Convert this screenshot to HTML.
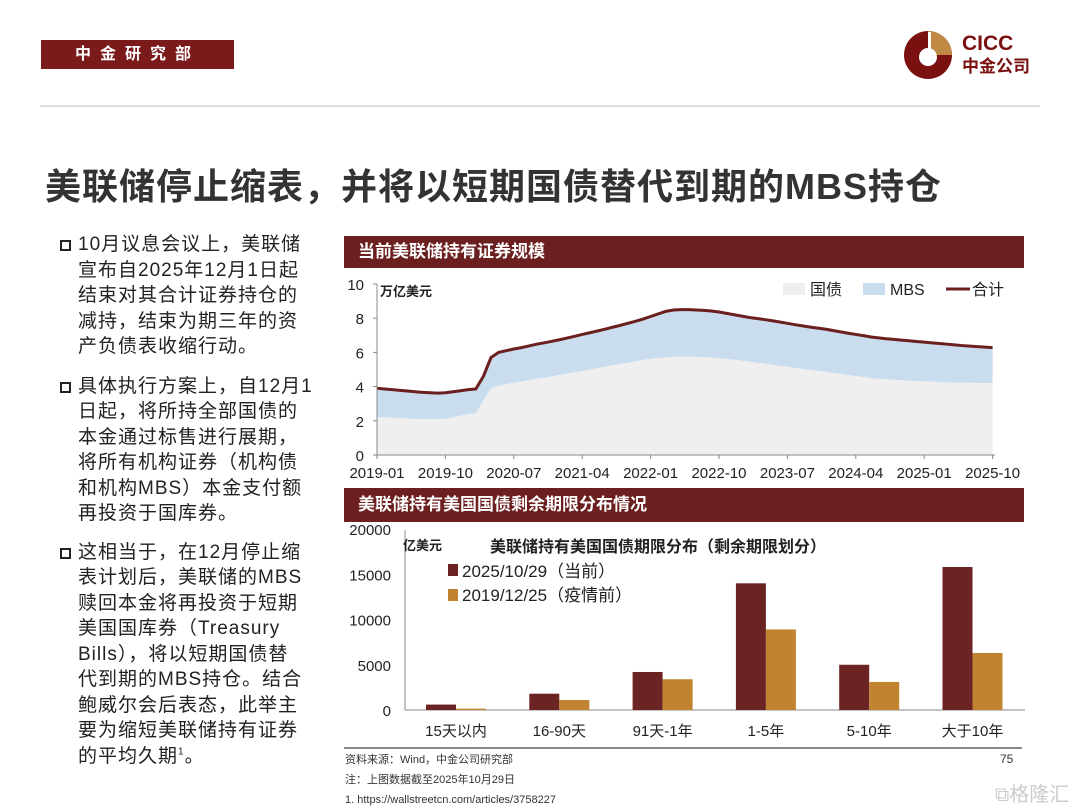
<!DOCTYPE html>
<html><head><meta charset="utf-8"><style>
body{margin:0;width:1080px;height:810px;position:relative;background:#fff;font-family:"Liberation Sans","Noto Sans CJK SC",sans-serif;overflow:hidden}
.abs{position:absolute}
.bl{position:absolute;left:60px;font-size:19px;letter-spacing:1px;line-height:25.5px;color:#222;white-space:nowrap}
.bl p{margin:0;padding-left:18px;position:relative}
.bl p:before{content:"";position:absolute;left:0;top:8px;width:7px;height:7px;border:2px solid #222}
sup{line-height:0}
</style></head><body>
<div class="abs" style="left:41px;top:40px;width:193px;height:29px;background:#7a1a1a;color:#fff;font-weight:bold;font-size:16px;line-height:29px;text-align:center;letter-spacing:9px">中金研究部</div>
<div class="abs" style="left:903px;top:30px;width:50px;height:50px">
<svg width="50" height="50" viewBox="0 0 50 50"><circle cx="25" cy="25" r="24" fill="#7a1010"/><path d="M25 1A24 24 0 0 1 49 25L25 25Z" fill="#c08a45"/><circle cx="25" cy="27" r="9" fill="#fff"/><rect x="25" y="2" width="3" height="20" fill="#fff"/></svg></div>
<div class="abs" style="left:962px;top:33px;color:#7a1010;font-weight:bold;font-size:21px;line-height:22px">CICC<br><span style="font-size:17px">中金公司</span></div>
<div class="abs" style="left:40px;top:105px;width:1000px;height:2px;background:#ddd"></div>
<div class="abs" style="left:45px;top:158px;font-size:36px;letter-spacing:1px;font-weight:bold;color:#333;white-space:nowrap">美联储停止缩表，并将以短期国债替代到期的MBS持仓</div>
<div class="bl" style="top:232px">
<p>10月议息会议上，美联储<br>宣布自2025年12月1日起<br>结束对其合计证券持仓的<br>减持，结束为期三年的资<br>产负债表收缩行动。</p>
<p style="margin-top:14px">具体执行方案上，自12月1<br>日起，将所持全部国债的<br>本金通过标售进行展期，<br>将所有机构证券（机构债<br>和机构MBS）本金支付额<br>再投资于国库券。</p>
<p style="margin-top:13px">这相当于，在12月停止缩<br>表计划后，美联储的MBS<br>赎回本金将再投资于短期<br>美国国库券（Treasury<br>Bills），将以短期国债替<br>代到期的MBS持仓。结合<br>鲍威尔会后表态，此举主<br>要为缩短美联储持有证券<br>的平均久期<sup style="font-size:10px">1</sup>。</p>
</div>
<div class="abs" style="left:344px;top:236px;width:680px;height:32px;background:#6b1f1f;color:#fff;font-weight:bold;font-size:17px;line-height:32px;padding-left:14px;box-sizing:border-box">当前美联储持有证券规模</div>
<div class="abs" style="left:344px;top:488px;width:680px;height:34px;background:#6b1f1f;color:#fff;font-weight:bold;font-size:17px;line-height:34px;padding-left:14px;box-sizing:border-box">美联储持有美国国债剩余期限分布情况</div>
<div class="abs" style="left:344px;top:747px;width:678px;height:2px;background:#888"></div>
<div class="abs" style="left:345px;top:750px;font-size:11px;line-height:20px;color:#333">资料来源：Wind，中金公司研究部<br>注：上图数据截至2025年10月29日<br>1. https://wallstreetcn.com/articles/3758227</div>
<div class="abs" style="left:1000px;top:752px;font-size:12px;color:#333">75</div>
<div class="abs" style="left:995px;top:778px;font-size:20px;color:#ccc">⧉格隆汇</div>
<svg id="c" class="abs" style="left:0;top:0" width="1080" height="810"></svg>
<script>
const months=["2019-01","2019-10","2020-07","2021-04","2022-01","2022-10","2023-07","2024-04","2025-01","2025-10"];
const treasury=[2.22,2.20,2.18,2.16,2.14,2.12,2.10,2.10,2.10,2.12,2.20,2.30,
2.40,2.45,3.20,3.90,4.05,4.15,4.22,4.30,4.38,4.45,4.52,4.60,
4.68,4.76,4.84,4.92,5.00,5.08,5.16,5.24,5.32,5.40,5.48,5.56,
5.62,5.68,5.72,5.74,5.75,5.75,5.74,5.72,5.70,5.66,5.62,5.58,
5.52,5.46,5.40,5.34,5.28,5.22,5.16,5.10,5.04,4.98,4.92,4.86,
4.80,4.74,4.68,4.62,4.56,4.50,4.46,4.43,4.40,4.37,4.35,4.33,
4.31,4.29,4.27,4.25,4.24,4.23,4.22,4.22,4.21,4.20];
const mbs=[1.68,1.66,1.64,1.62,1.60,1.58,1.56,1.54,1.52,1.52,1.50,1.46,
1.42,1.41,1.40,1.80,1.95,1.95,1.98,1.98,2.00,2.03,2.04,2.05,
2.06,2.08,2.10,2.13,2.15,2.17,2.20,2.23,2.26,2.30,2.34,2.39,
2.48,2.57,2.68,2.74,2.75,2.75,2.74,2.74,2.72,2.70,2.66,2.62,
2.60,2.58,2.58,2.58,2.57,2.56,2.54,2.52,2.51,2.50,2.50,2.50,
2.48,2.46,2.44,2.43,2.42,2.40,2.39,2.37,2.36,2.35,2.33,2.31,
2.29,2.27,2.25,2.23,2.20,2.17,2.15,2.12,2.10,2.08];
const yTicks1=[0,2,4,6,8,10];
const categories=["15天以内","16-90天","91天-1年","1-5年","5-10年","大于10年"];
const current=[600,1800,4200,14000,5000,15800];
const prepandemic=[150,1100,3400,8900,3100,6300];
const yTicks2=[0,5000,10000,15000,20000];

const svg=document.getElementById('c');const NS="http://www.w3.org/2000/svg";
function mk(t,a,txt){const e=document.createElementNS(NS,t);for(const k in a)e.setAttribute(k,a[k]);if(txt!==undefined)e.textContent=txt;svg.appendChild(e);return e;}
const F='"Liberation Sans","Noto Sans CJK SC",sans-serif';
const x1=i=>377+i*7.6, y1=v=>455-v*17.1;
let pT="M"+x1(0)+","+y1(0);
treasury.forEach((v,i)=>pT+=" L"+x1(i)+","+y1(v));
pT+=" L"+x1(treasury.length-1)+","+y1(0)+"Z";
let up=[],dn=[];
mbs.forEach((v,i)=>{up.push(x1(i)+","+y1(v+treasury[i]));dn.unshift(x1(i)+","+y1(treasury[i]));});
let e=mk('path',{d:pT,fill:'#efefef'});


e=mk('path',{d:"M"+up.join(" L")+" L"+dn.join(" L")+"Z",fill:'#c9ddef'});


e=mk('polyline',{points:up.join(" "),fill:'none',stroke:'#6b1f1f','stroke-width':3});


mk('line',{x1:377,y1:284,x2:377,y2:455,stroke:'#888'});
mk('line',{x1:377,y1:455,x2:995,y2:455,stroke:'#888'});
yTicks1.forEach(v=>{const t=mk('text',{x:364,y:y1(v)+6,'font-size':15,'text-anchor':'end','font-family':F,fill:'#222'},v);


mk('line',{x1:373,y1:y1(v),x2:377,y2:y1(v),stroke:'#888'});});
months.forEach((m,k)=>{const xx=377+k*9*7.6;const t=mk('text',{x:xx,y:478,'font-size':15,'text-anchor':'middle','font-family':F,fill:'#222'},m);


mk('line',{x1:xx,y1:455,x2:xx,y2:459,stroke:'#888'});});
mk('text',{x:380,y:296,'font-size':13,'font-weight':'bold','font-family':F,fill:'#222'},'万亿美元');
mk('rect',{x:783,y:283,width:22,height:12,fill:'#efefef'});mk('text',{x:810,y:295,'font-size':16,'font-family':F,fill:'#222'},'国债');
mk('rect',{x:863,y:283,width:22,height:12,fill:'#c9ddef'});mk('text',{x:890,y:295,'font-size':16,'font-family':F,fill:'#222'},'MBS');
mk('line',{x1:946,y1:289,x2:970,y2:289,stroke:'#6b1f1f','stroke-width':3});mk('text',{x:972,y:295,'font-size':16,'font-family':F,fill:'#222'},'合计');
const y2=v=>710-v*0.00905, cx=i=>456+i*103.3;
mk('line',{x1:405,y1:530,x2:405,y2:710,stroke:'#888'});
mk('line',{x1:405,y1:710,x2:1025,y2:710,stroke:'#888'});
yTicks2.forEach(v=>{const t=mk('text',{x:391,y:y2(v)+6,'font-size':15,'text-anchor':'end','font-family':F,fill:'#222'},v);

});
categories.forEach((c,i)=>{
 let b=mk('rect',{x:cx(i)-30,y:y2(current[i]),width:30,height:710-y2(current[i]),fill:'#6b2323'});
 
 
 b=mk('rect',{x:cx(i),y:y2(prepandemic[i]),width:30,height:710-y2(prepandemic[i]),fill:'#c08430'});
 
 
 const t=mk('text',{x:cx(i),y:736,'font-size':15,'text-anchor':'middle','font-family':F,fill:'#222'},c);
 
 });
mk('text',{x:403,y:550,'font-size':13,'font-weight':'bold','font-family':F,fill:'#222'},'亿美元');
mk('text',{x:490,y:552,'font-size':16,'font-weight':'bold','font-family':F,fill:'#222'},'美联储持有美国国债期限分布（剩余期限划分）');
mk('rect',{x:448,y:564,width:10,height:12,fill:'#6b2323'});mk('text',{x:462,y:577,'font-size':17,'font-family':F,fill:'#222'},'2025/10/29（当前）');
mk('rect',{x:448,y:589,width:10,height:12,fill:'#c08430'});mk('text',{x:462,y:601,'font-size':17,'font-family':F,fill:'#222'},'2019/12/25（疫情前）');
</script>
</body></html>
